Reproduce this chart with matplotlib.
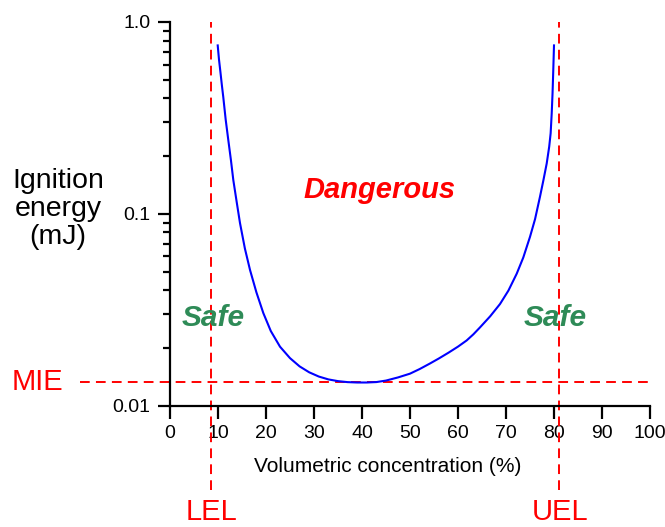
import matplotlib
matplotlib.use("Agg")
import matplotlib.pyplot as plt
from matplotlib.ticker import FixedLocator, LogLocator, NullFormatter

plt.rcParams['font.family'] = ['Liberation Sans', 'DejaVu Sans']

# Curve data (concentration %, ignition energy mJ)
conc = [9.94, 10.2, 10.5, 10.8, 11.1, 11.6, 12.15, 12.7, 13.19, 13.9, 14.58, 15.6, 16.67, 18.0,
        19.44, 21.0, 22.92, 25.0, 27.0, 29.0, 31.0, 33.0, 35.0, 37.0, 39.0, 41.0, 43.0,
        45.0, 47.5, 50.0, 52.0, 54.17, 56.0, 58.0, 60.0, 61.8, 63.2, 64.58, 66.7, 68.75, 70.5,
        72.23, 73.6, 75.0, 76.05, 77.08, 77.8, 78.48, 79.0, 79.3, 79.52, 79.7, 79.85, 80.0]
energy = [0.755, 0.64, 0.55, 0.47, 0.406, 0.31, 0.242, 0.19, 0.150, 0.115, 0.0896, 0.066, 0.0510, 0.0390,
          0.0304, 0.0245, 0.0203, 0.0177, 0.01603, 0.01493, 0.01419, 0.01371, 0.01343, 0.01327, 0.01321, 0.01321, 0.01328,
          0.01352, 0.01404, 0.01469, 0.01552, 0.01660, 0.01762, 0.01888, 0.02032, 0.02188, 0.02355, 0.02559, 0.02924, 0.03388, 0.0398,
          0.04875, 0.0592, 0.0759, 0.0938, 0.1228, 0.150, 0.183, 0.224, 0.263, 0.333, 0.427, 0.562, 0.755]

lel = 8.6
uel = 81.1
mie = 0.0133

x_ticks = [0, 10, 20, 30, 40, 50, 60, 70, 80, 90, 100]
y_ticks = [0.01, 0.1, 1.0]
y_ticklabels = ["0.01", "0.1", "1.0"]

fig = plt.figure(figsize=(6.65, 5.27), dpi=100)
ax = fig.add_axes([170/665, 1 - 405.7/527, 480/665, (405.7 - 22)/527])

ax.plot(conc, energy, color='#0000ff', lw=1.5, zorder=3, solid_joinstyle='round')

ax.set_yscale('log')
ax.set_xlim(0, 100)
ax.set_ylim(0.01, 1.0)

dash = (0, (5, 3.2))
red = '#ff0000'
ax.plot([-18.75, 100], [mie, mie], color=red, lw=1.4, linestyle=dash, clip_on=False, zorder=2)
for xv in (lel, uel):
    ax.plot([xv, xv], [0.00364, 1.0], color=red, lw=1.4, linestyle=dash, clip_on=False, zorder=2)

for s in ('top', 'right'):
    ax.spines[s].set_visible(False)
for s in ('left', 'bottom'):
    ax.spines[s].set_linewidth(1.6)

ax.xaxis.set_major_locator(FixedLocator(x_ticks))
ax.set_xticklabels([str(v) for v in x_ticks])
ax.yaxis.set_major_locator(FixedLocator(y_ticks))
ax.set_yticklabels(y_ticklabels)
ax.yaxis.set_minor_locator(LogLocator(base=10, subs=range(2, 10)))
ax.yaxis.set_minor_formatter(NullFormatter())

ax.tick_params(axis='both', which='major', direction='out', length=9, width=1.6,
               labelsize=14, pad=5, color='black')
ax.tick_params(axis='y', which='minor', direction='out', length=5, width=1.6)

fig.text(388/665, 1 - 467/527, "Volumetric concentration (%)", ha='center', va='center',
         fontsize=15)

fig.text(58/665, 1 - 209/527, "Ignition\nenergy\n(mJ)", ha='center', va='center',
         fontsize=20.5, linespacing=1.1)

fig.text(37/665, 1 - 382/527, "MIE", ha='center', va='center', fontsize=21, color=red)
fig.text(211/665, 1 - 512/527, "LEL", ha='center', va='center', fontsize=21, color=red)
fig.text(560/665, 1 - 512/527, "UEL", ha='center', va='center', fontsize=21, color=red)

ax.text(43.6, 0.133, "Dangerous", ha='center', va='center', fontsize=21,
        color=red, fontweight='bold', fontstyle='italic')
green = '#2e8b57'
ax.text(8.96, 0.0287, "Safe", ha='center', va='center', fontsize=21.5,
        color=green, fontweight='bold', fontstyle='italic')
ax.text(80.2, 0.0287, "Safe", ha='center', va='center', fontsize=21.5,
        color=green, fontweight='bold', fontstyle='italic')

fig.savefig("out.png", dpi=100)
